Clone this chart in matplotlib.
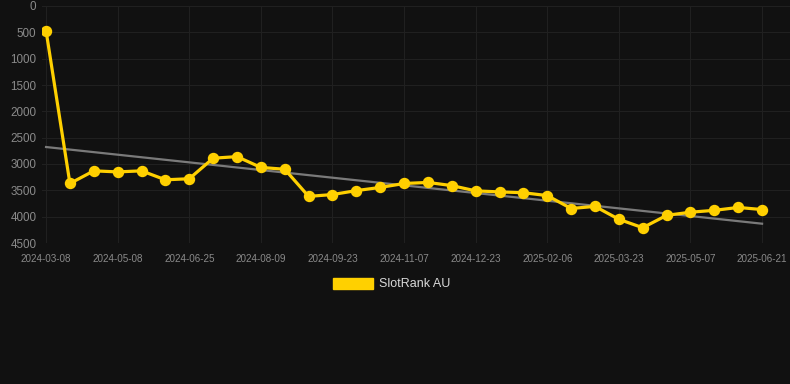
import numpy as np
import matplotlib.pyplot as plt
from matplotlib.patches import Patch

plt.rcParams['font.family'] = ['Liberation Sans', 'DejaVu Sans']

# rank per snapshot (lower rank number shown higher - axis inverted)
ranks = [470, 3370, 3130, 3150, 3130, 3300, 3280, 2890, 2860, 3065,
         3100, 3615, 3580, 3505, 3445, 3370, 3350, 3410, 3510, 3530,
         3545, 3600, 3845, 3805, 4050, 4210, 3975, 3915, 3880, 3825,
         3865]
tick_labels = ['2024-03-08', '2024-05-08', '2024-06-25', '2024-08-09',
               '2024-09-23', '2024-11-07', '2024-12-23', '2025-02-06',
               '2025-03-23', '2025-05-07', '2025-06-21']
y_ticks = [0, 500, 1000, 1500, 2000, 2500, 3000, 3500, 4000, 4500]
series_name = 'SlotRank AU'

bg = '#111111'
yellow = '#ffd000'

x = np.arange(len(ranks))
slope, icpt = np.polyfit(x, ranks, 1)
trend = slope * x + icpt

fig = plt.figure(figsize=(7.9, 3.84), dpi=100, facecolor=bg)
ax = fig.add_axes([42/790, 1 - 243/384, 748/790, 237/384], facecolor=bg)

ax.plot(x, trend, color='#7a7a7a', lw=1.6, zorder=2)
ax.plot(x, ranks, color=yellow, lw=2.3, marker='o', ms=7.2, zorder=3)

ax.set_ylim(4500, 0)
ax.set_xlim(-0.17, 31.17)
ax.set_yticks(y_ticks)
ax.set_xticks(x[::3])
ax.set_xticklabels(tick_labels)

ax.grid(True, color='#202020', lw=0.8)
ax.set_axisbelow(True)
for s in ax.spines.values():
    s.set_visible(False)
ax.tick_params(axis='y', length=0, pad=4, labelsize=8.4, labelcolor='#8a8a8a')
ax.tick_params(axis='x', length=0, pad=8, labelsize=7.1, labelcolor='#8a8a8a')

fig.legend(handles=[Patch(color=yellow, label=series_name)],
           loc='center', bbox_to_anchor=(391.5/790, 1 - 284/384),
           frameon=False, fontsize=9, labelcolor='#d8d8d8',
           handlelength=3.2, handleheight=0.96, handletextpad=0.5)

plt.savefig('out.png', dpi=100, facecolor=bg)
